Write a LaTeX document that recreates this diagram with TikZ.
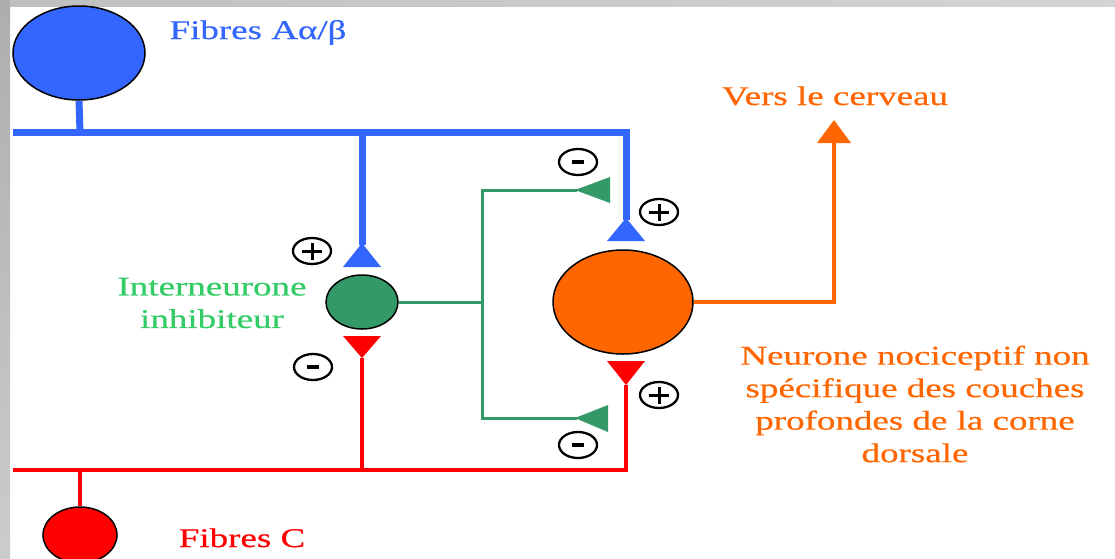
\documentclass[tikz,border=0pt]{standalone}
\usepackage{fontspec}
\setmainfont{Liberation Serif}
\newfontfamily\lblfont[FakeBold=0.5]{Liberation Serif}
\usepackage{graphicx}
\usetikzlibrary{shapes.geometric}
\definecolor{bluec}{RGB}{51,102,255}
\definecolor{redc}{RGB}{255,0,0}
\definecolor{greenc}{RGB}{51,153,102}
\definecolor{greentxt}{RGB}{51,204,102}
\definecolor{orangec}{RGB}{255,102,0}
\newcommand{\sx}[1]{\scalebox{1.37}[1]{#1}}
\begin{document}
\begin{tikzpicture}[x=1pt,y=-1pt,
  cell/.style={ellipse, draw=black, line width=1.5pt, inner sep=0pt},
  blueline/.style={draw=bluec, line width=7pt},
  redline/.style={draw=redc, line width=4pt},
  greenline/.style={draw=greenc, line width=3pt},
  orangeline/.style={draw=orangec, line width=4pt},
  signnode/.style={ellipse, draw=black, line width=2.3pt, minimum width=38pt, minimum height=26pt, inner sep=0pt},
  plusnode/.style={signnode, path picture={\draw[line width=3pt] ([xshift=-10pt]path picture bounding box.center) -- ([xshift=10pt]path picture bounding box.center) ([yshift=-8.5pt]path picture bounding box.center) -- ([yshift=8.5pt]path picture bounding box.center);}},
  minusnode/.style={signnode, path picture={\draw[line width=4pt] ([xshift=-6pt]path picture bounding box.center) -- ([xshift=6pt]path picture bounding box.center);}},
  lbl/.style={font=\lblfont\fontsize{27}{32.5}\selectfont, inner sep=0pt, align=center}
]
\useasboundingbox (0,0) rectangle (1115,558);
\fill[white] (0,0) rectangle (1115,558);
\shade[left color=black!25, right color=black!17] (0,0) rectangle (1115,6);
\shade[top color=black!32, bottom color=black!20] (0,0) rectangle (10,558);

% neurons
\node[cell, fill=bluec, minimum width=132pt, minimum height=94pt] (ab) at (79,53) {};
\node[cell, fill=redc, minimum width=74pt, minimum height=56pt] (cf) at (80,535) {};
\node[cell, fill=greenc, minimum width=72pt, minimum height=54pt] (inter) at (362,302) {};
\node[cell, fill=orangec, minimum width=140pt, minimum height=104pt] (noci) at (623,302) {};

% junction coordinates
\coordinate (bL) at (13,132);
\coordinate (bJ1) at (80,132);
\coordinate (bJ2) at (362,132);
\coordinate (bR) at (626,132);
\coordinate (tBL) at (362,245);
\coordinate (tBR) at (626,220);
\coordinate (rL) at (13,470);
\coordinate (rJ1) at (80,470);
\coordinate (rJ2) at (362,470);
\coordinate (rR) at (626,470);
\coordinate (tRL) at (362,358);
\coordinate (tRR) at (626,385);
\coordinate (gJ) at (482,302);
\coordinate (gU) at (482,190);
\coordinate (gD) at (482,418);
\coordinate (tGU) at (577,190);
\coordinate (tGD) at (577,418);
\coordinate (oC) at (834,302);
\coordinate (oT) at (834,143);
\coordinate (oA) at (834,120);

% blue fibres
\draw[blueline] (ab.south) -- (bJ1);
\draw[blueline] (bL) -- (bR) -- (tBR);
\draw[blueline] (bJ2) -- (tBL);
\fill[bluec] ([yshift=2pt]tBL) -- ++(19,24) -- ++(-38,0) -- cycle;
\fill[bluec] ([yshift=2pt]tBR) -- ++(19,23) -- ++(-38,0) -- cycle;

% red fibres
\draw[redline] (cf.north) -- (rJ1);
\draw[redline] (rL) -- (rR) -- (tRR);
\draw[redline] (rJ2) -- (tRL);
\fill[redc] (tRL) -- ++(19,-22) -- ++(-38,0) -- cycle;
\fill[redc] (tRR) -- ++(19,-24) -- ++(-38,0) -- cycle;

% green interneuron
\draw[greenline] (inter.east) -- (gJ);
\draw[greenline] (tGU) -- (gU) -- (gD) -- (tGD);
\fill[greenc] ([xshift=-2pt]tGU) -- ++(35,-13) -- ++(0,26) -- cycle;
\fill[greenc] ([xshift=-2pt]tGD) -- ++(33,-13) -- ++(0,27) -- cycle;

% orange output
\draw[orangeline] (noci.east) -- (oC) -- (oT);
\fill[orangec] (oA) -- ++(17,23) -- ++(-34,0) -- cycle;

% signs
\node[plusnode] (p1) at (312,251) {};
\node[minusnode] (m1) at (313,367) {};
\node[minusnode] (m2) at (578,162) {};
\node[plusnode] (p2) at (659,212) {};
\node[plusnode] (p3) at (659,395) {};
\node[minusnode] (m3) at (578,445) {};

% labels
\node[lbl, text=bluec, anchor=base] (tab) at (258,39) {\sx{Fibres Aα/β}};
\node[lbl, text=redc, anchor=base] (tc) at (242,547) {\sx{Fibres C}};
\node[lbl, text=orangec, anchor=base] (tv) at (835,105) {\sx{Vers le cerveau}};
\node[lbl, text=greentxt] (ti) at (212,303) {\sx{Interneurone}\\\sx{inhibiteur}};
\node[lbl, text=orangec] (tn) at (915,404) {\sx{Neurone nociceptif non}\\\sx{spécifique des couches}\\\sx{profondes de la corne}\\\sx{dorsale}};
\end{tikzpicture}
\end{document}
